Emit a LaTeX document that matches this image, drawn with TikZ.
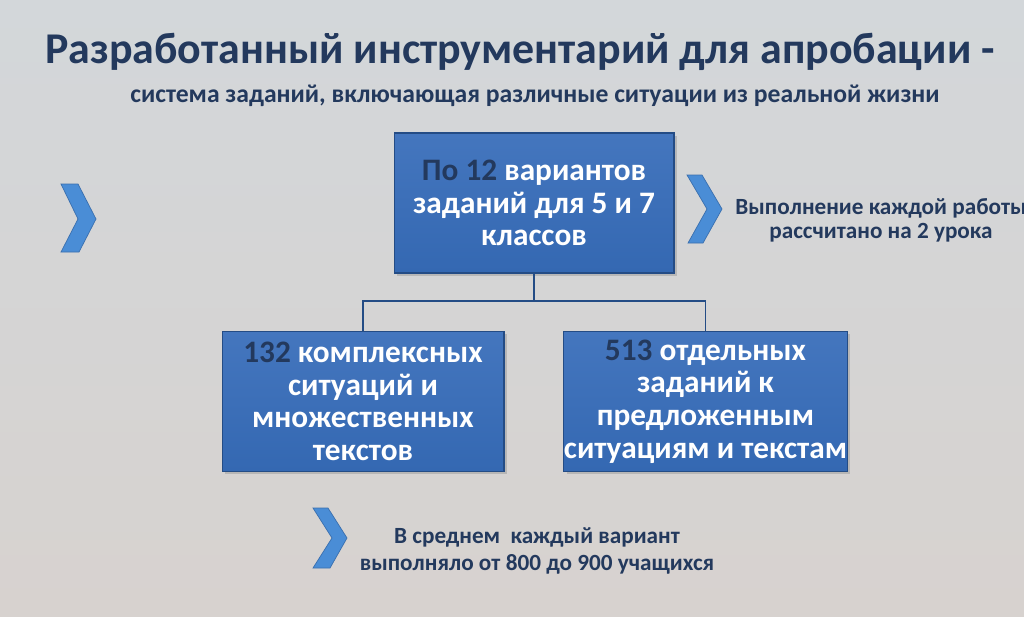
\documentclass[tikz,border=0pt]{standalone}
\usepackage{fontspec}
\setmainfont{Carlito}
\usepackage{xcolor}
\usetikzlibrary{positioning,shadows}

\definecolor{inkblue}{HTML}{23395D}
\definecolor{boxtop}{HTML}{4476BE}
\definecolor{boxbot}{HTML}{3468B2}
\definecolor{boxedge}{HTML}{244C85}
\definecolor{chevfill}{HTML}{4A8DD6}
\definecolor{chevedge}{HTML}{3A6FAE}
\definecolor{bgtop}{HTML}{D3D7DA}
\definecolor{bgbot}{HTML}{D7D2CF}

\begin{document}
\begin{tikzpicture}[x=0.02cm, y=-0.02cm,
  title/.style={text=inkblue, font=\bfseries\fontsize{25}{28}\selectfont, inner sep=0pt},
  subtitle/.style={text=inkblue, font=\bfseries\fontsize{14.6}{16}\selectfont, inner sep=0pt},
  taskbox/.style={draw=boxedge, line width=0.6pt, top color=boxtop, bottom color=boxbot,
    minimum height=2.8cm, inner sep=0pt, align=center, text=white,
    font=\bfseries\fontsize{17.8}{18.6}\selectfont,
    drop shadow={shadow xshift=1.5pt, shadow yshift=-1.5pt, opacity=0.35}},
  link/.style={draw=boxedge, line width=1.1pt},
  chev/.style={fill=chevfill, draw=chevedge, line width=0.4pt},
  note/.style={text=inkblue, align=center}
]

% Background
\useasboundingbox (0,0) rectangle (1024,616);
\clip (0,0) rectangle (1024,616);
\shade[top color=bgtop, bottom color=bgbot] (0,0) rectangle (1024,616);

% Heading
\node[title, anchor=base] (head) at (520,63) {Разработанный инструментарий для апробации -};
\node[subtitle, anchor=base] (subhead) at (535,102) {система заданий, включающая различные ситуации из реальной жизни};

% Boxes
\node[taskbox, minimum width=5.6cm] (top) at (534,203)
  {\textcolor{inkblue}{По 12} вариантов\\ заданий для 5 и 7\\ классов};
\node[taskbox, minimum width=5.64cm] (left) at (363,401.5)
  {\textcolor{inkblue}{132} комплексных\\ ситуаций и\\ множественных\\ текстов};
\node[taskbox, minimum width=5.66cm] (right) at (705.5,401.5)
  {\textcolor{inkblue}{513} отдельных\\ заданий к\\ предложенным\\ ситуациям и текстам};

% Connectors
\coordinate (fork) at (534,301);
\draw[link] (top.south) -- (fork);
\draw[link] (fork) -| (left.north);
\draw[link] (fork) -| (right.north);

% Chevrons
\draw[chev] (61,184) -- (78,184) -- (96,219) -- (79,252) -- (61,252) -- (78,219) -- cycle;
\draw[chev] (687,175) -- (702,175) -- (722,209) -- (703,243) -- (688,243) -- (707,209) -- cycle;
\draw[chev] (313,508) -- (328,508) -- (347,538) -- (330,568) -- (313,568) -- (332,538) -- cycle;

% Notes
\node[note, font=\bfseries\fontsize{13.2}{13.8}\selectfont] (hours) at (881,220)
  {Выполнение каждой работы\\ рассчитано на 2 урока};
\node[note, font=\bfseries\fontsize{13.2}{15.6}\selectfont] (pupils) at (537,551)
  {В среднем \ каждый вариант\\ выполняло от 800 до 900 учащихся};

\end{tikzpicture}
\end{document}
